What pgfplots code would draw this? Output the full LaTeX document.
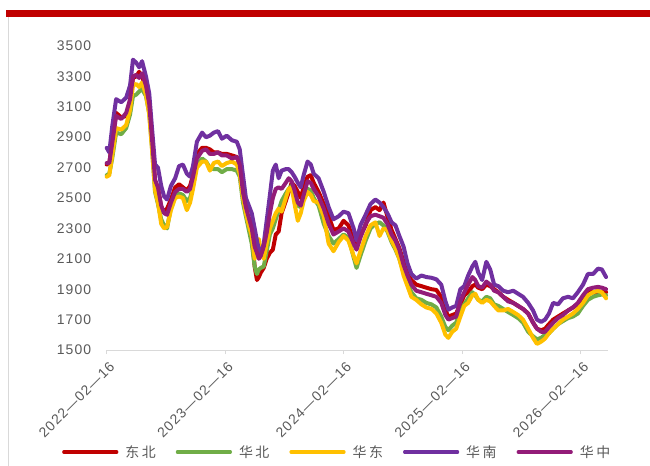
\documentclass[border=0pt]{standalone}
\usepackage{fontspec}
\setmainfont{Liberation Sans}
\newfontfamily\tickfont{Liberation Sans}[LetterSpace=8]
\newfontfamily\cjk{Noto Sans CJK SC}[LetterSpace=18]
\usepackage{pgfplots}
\usepackage{pgfplotstable}
\pgfplotsset{compat=1.18}

\definecolor{topred}{HTML}{C00000}
\definecolor{cDB}{HTML}{C00000}
\definecolor{cHB}{HTML}{70AD47}
\definecolor{cHD}{HTML}{FFC000}
\definecolor{cHN}{HTML}{7030A0}
\definecolor{cHZ}{HTML}{931C78}
\definecolor{txt}{HTML}{595959}
\definecolor{axgray}{HTML}{D9D9D9}

% d = days since 2022-02-16; DB=东北 HB=华北 HD=华东 HN=华南 HZ=华中
\pgfplotstableread{
d    HN   HZ   DB   HD   HB
0    2830 2730 2720 2640 2650
8    2800 2730 2730 2650 2660
17   2970 2860 2870 2780 2760
29   3150 3040 3060 2960 2930
45   3130 3020 3030 2950 2920
60   3160 3060 3040 2980 2960
72   3240 3150 3130 3080 3050
81   3410 3300 3290 3240 3170
91   3390 3310 3300 3250 3180
100  3360 3290 3330 3230 3200
109  3400 3320 3300 3260 3220
121  3300 3240 3220 3180 3170
131  3190 3120 3110 3050 3060
140  2950 2880 2870 2810 2820
149  2720 2620 2610 2550 2540
158  2700 2570 2560 2470 2460
168  2580 2450 2440 2330 2360
177  2510 2400 2410 2300 2320
186  2490 2390 2430 2310 2300
198  2580 2470 2490 2420 2440
211  2630 2540 2570 2500 2520
223  2710 2560 2590 2510 2530
235  2720 2560 2570 2500 2520
247  2660 2540 2550 2420 2480
257  2640 2560 2580 2470 2500
266  2710 2640 2650 2560 2580
278  2870 2760 2790 2700 2720
294  2930 2810 2830 2740 2760
306  2900 2820 2830 2740 2740
318  2910 2790 2820 2680 2700
330  2930 2790 2800 2730 2690
343  2940 2800 2800 2740 2690
355  2890 2780 2790 2710 2670
370  2910 2780 2790 2730 2690
386  2880 2760 2780 2740 2690
401  2870 2770 2770 2720 2680
410  2820 2720 2720 2660 2640
420  2650 2540 2550 2500 2470
429  2500 2440 2420 2400 2380
438  2450 2370 2360 2320 2290
447  2400 2300 2250 2250 2200
456  2300 2180 2050 2100 2050
463  2220 2140 1960 2180 2000
469  2160 2100 1980 2230 2030
475  2130 2120 2010 2150 2040
484  2200 2180 2040 2100 2050
493  2350 2270 2100 2200 2150
503  2520 2400 2140 2300 2260
512  2680 2500 2160 2350 2300
521  2720 2560 2260 2400 2360
530  2630 2570 2280 2430 2420
539  2680 2560 2400 2410 2480
552  2690 2600 2480 2500 2530
561  2690 2630 2540 2560 2560
570  2670 2610 2600 2570 2580
579  2640 2550 2580 2460 2520
589  2600 2470 2540 2350 2450
598  2570 2450 2500 2400 2440
607  2650 2520 2570 2480 2500
619  2740 2610 2640 2540 2560
629  2720 2600 2650 2520 2550
638  2660 2560 2600 2480 2500
653  2630 2510 2540 2470 2450
669  2540 2430 2460 2380 2330
684  2440 2330 2380 2200 2250
699  2360 2260 2290 2150 2200
715  2380 2280 2300 2210 2230
730  2410 2300 2350 2250 2260
745  2400 2280 2320 2220 2240
761  2300 2200 2220 2120 2110
770  2220 2160 2180 2070 2040
782  2320 2240 2250 2150 2120
798  2390 2330 2320 2250 2220
813  2460 2380 2420 2320 2300
828  2490 2390 2440 2340 2330
841  2470 2380 2420 2250 2340
853  2440 2370 2470 2300 2320
865  2400 2330 2380 2290 2280
878  2340 2260 2290 2220 2210
890  2320 2220 2230 2170 2160
902  2250 2160 2170 2100 2100
915  2180 2060 2080 1990 2010
927  2070 1990 2000 1920 1940
939  2000 1930 1960 1850 1880
954  1970 1890 1930 1830 1840
970  1990 1880 1920 1800 1830
985  1980 1870 1910 1780 1810
1001 1975 1860 1900 1770 1800
1016 1965 1850 1895 1740 1780
1031 1930 1810 1850 1680 1720
1044 1820 1730 1760 1600 1650
1053 1765 1700 1720 1580 1630
1065 1780 1710 1730 1620 1660
1077 1790 1720 1740 1640 1680
1090 1900 1820 1800 1720 1750
1102 1920 1880 1860 1790 1800
1114 1990 1930 1880 1810 1840
1127 2050 1980 1920 1860 1880
1136 2080 1960 1930 1870 1860
1145 2010 1920 1910 1830 1830
1157 1960 1910 1900 1810 1820
1170 2080 1950 1930 1830 1850
1182 2030 1930 1920 1820 1840
1194 1930 1890 1900 1790 1800
1207 1920 1880 1880 1760 1790
1222 1890 1850 1850 1760 1770
1237 1880 1820 1830 1770 1750
1253 1890 1810 1810 1750 1730
1268 1870 1790 1790 1730 1710
1283 1850 1770 1770 1700 1680
1299 1810 1740 1740 1640 1620
1314 1760 1680 1680 1580 1590
1326 1700 1640 1640 1540 1570
1339 1685 1620 1630 1555 1580
1351 1700 1620 1640 1575 1600
1363 1740 1650 1670 1610 1610
1376 1810 1680 1700 1640 1640
1391 1800 1710 1720 1670 1670
1406 1840 1730 1740 1700 1690
1422 1850 1760 1760 1720 1710
1437 1840 1780 1780 1740 1720
1452 1880 1810 1800 1770 1740
1468 1930 1860 1850 1810 1790
1483 2000 1900 1880 1860 1830
1499 2000 1910 1880 1880 1850
1514 2035 1915 1870 1890 1860
1526 2030 1910 1880 1880 1865
1539 1980 1900 1880 1840 1860
}\prices

\begin{document}
\begin{tikzpicture}
\path[use as bounding box] (0,0) rectangle (650bp,466bp);
\fill[topred] (6bp,448.5bp) rectangle (650bp,455.6bp);
\draw[axgray, line width=1bp] (8.3bp,0) -- (8.3bp,448.5bp);
\begin{axis}[
    at={(106.7bp,116bp)}, anchor=south west,
    scale only axis,
    width=501.3bp, height=304bp,
    xmin=0, xmax=1545,
    ymin=1500, ymax=3500,
    ytick={1500,1700,...,3500},
    xtick={0,365,730,1096,1461},
    xticklabels={2022—02—16,2023—02—16,2024—02—16,2025—02—16,2026—02—16},
    axis x line*=bottom,
    axis y line*=left,
    y axis line style={draw=none},
    x axis line style={draw=axgray, line width=1bp},
    ytick style={draw=none},
    xtick style={draw=axgray, line width=1bp},
    xtick align=outside,
    major tick length=4bp,
    ticklabel style={font=\tickfont\fontsize{14}{14}\selectfont, text=txt},
    /pgf/number format/assume math mode=true,
    /pgf/number format/1000 sep={},
    yticklabel style={anchor=east, xshift=-12bp},
    xticklabel style={rotate=45, anchor=east, xshift=0bp, yshift=-11bp},
    clip=false,
    every axis plot/.append style={line width=4bp, line join=round, line cap=round},
    legend columns=5,
    legend style={draw=none, fill=none, at={(axis description cs:0,0)}, anchor=west,
        xshift=-44.7bp, yshift=-102bp, inner sep=0pt,
        font=\cjk\fontsize{14}{14}\selectfont, text=txt,
        nodes={inner sep=0pt},
        /tikz/every odd column/.append style={column sep=7bp},
        /tikz/every even column/.append style={column sep=20bp}},
    legend image code/.code={\draw[#1, line width=3.2bp, line cap=round] (0bp,0bp) -- (53bp,0bp);},
]
\addplot[cDB] table[x=d, y=DB] {\prices};
\addlegendentry{东北}
\addplot[cHB] table[x=d, y=HB] {\prices};
\addlegendentry{华北}
\addplot[cHD] table[x=d, y=HD] {\prices};
\addlegendentry{华东}
\addplot[cHN] table[x=d, y=HN] {\prices};
\addlegendentry{华南}
\addplot[cHZ] table[x=d, y=HZ] {\prices};
\addlegendentry{华中}
\end{axis}
\end{tikzpicture}
\end{document}
